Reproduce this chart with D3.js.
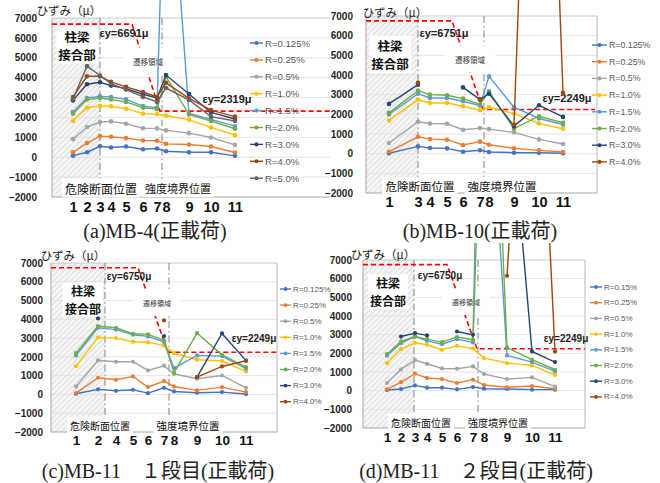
<!DOCTYPE html>
<html>
<head>
<meta charset="utf-8">
<script src="https://cdn.jsdelivr.net/npm/d3@7"></script>
<style>
  body { margin: 0; background: #fff; }
  svg { display: block; }
</style>
</head>
<body>
<svg id="chart" width="660" height="483"></svg>
<script>
// ひずみ分布 4パネル (MB-4, MB-10, MB-11 1段目, MB-11 2段目)

const yTicks = [-2000, -1000, 0, 1000, 2000, 3000, 4000, 5000, 6000, 7000];
const seriesColors = ["#4472C4", "#ED7D31", "#A5A5A5", "#FFC000", "#5B9BD5",
                      "#70AD47", "#264478", "#9E480E", "#636363"];

// ---- (a) MB-4 ----
const gaugeA = ["1", "2", "3", "4", "5", "6", "7", "8", "9", "10", "11"];
const posA = [21, 35, 48, 59, 74, 91, 105, 114, 137, 159, 183];
const namesA = ["R=0.125%", "R=0.25%", "R=0.5%", "R=1.0%", "R=1.5%", "R=2.0%", "R=3.0%", "R=4.0%", "R=5.0%"];
const strainA = [
  [80, 250, 550, 490, 540, 400, 440, 300, 250, 250, 70],
  [250, 710, 1060, 1030, 960, 840, 830, 670, 640, 540, 240],
  [910, 1520, 1770, 1800, 1680, 1460, 1450, 1350, 1210, 990, 620],
  [1830, 2490, 2580, 2560, 2440, 2190, 2160, 2100, 1880, 1500, 1110],
  [2270, 2980, 3060, 3030, 2910, 2570, 2490, 18000, 2200, 1900, 1560],
  [2190, 2900, 2980, 2900, 2780, 2490, 2420, 4050, 2150, 1820, 1430],
  [2860, 3670, 3770, 3600, 3450, 3165, 2980, 4130, 3180, 2250, 1920],
  [3030, 4070, 4070, 3790, 3535, 3280, 3030, 3740, 2960, 2370, 2040],
  [2930, 4580, 4110, 3700, 3400, 3030, 2780, 3480, 2880, 2040, 1820]
];
const yieldXA = [0, 80, 108, 278];
const yieldYA = [6691, 6691, 2319, 2319];

// ---- (b) MB-10 ----
const gaugeB = ["1", "3", "4", "5", "6", "7", "8", "9", "10", "11"];
const posB = [23, 52, 64, 81, 97, 114, 123, 148, 173, 197];
const namesB = ["R=0.125%", "R=0.25%", "R=0.5%", "R=1.0%", "R=1.5%", "R=2.0%", "R=3.0%", "R=4.0%"];
const strainB = [
  [20, 370, 290, 270, 100, 170, 85, 50, 50, 20],
  [100, 860, 740, 710, 440, 610, 455, 270, 170, 85],
  [540, 1620, 1535, 1520, 1215, 1300, 1250, 1080, 725, 490],
  [1690, 2750, 2580, 2580, 2410, 2210, 2360, 2040, 1535, 1265],
  [1990, 3050, 2830, 2830, 2665, 2445, 3930, 2360, 1790, 1485],
  [2075, 3200, 3000, 2970, 2800, 2500, 3170, 1270, 1905, 1570],
  [2530, 3510, null, null, 3370, 2750, 3050, 1400, 2460, 1870],
  [null, 3600, null, null, null, 2780, null, 1480, 36000, 3100]
];
const yieldXB = [0, 86, 117, 229];
const yieldYB = [6751, 6751, 2249, 2249];

// ---- (c) MB-11 1段目 ----
const gaugeC = ["1", "2", "4", "5", "6", "7", "8", "9", "10", "11"];
const posC = [25, 47, 65, 82, 97, 113, 123, 146, 171, 195];
const namesC = ["R=0.125%", "R=0.25%", "R=0.5%", "R=1.0%", "R=1.5%", "R=2.0%", "R=3.0%", "R=4.0%"];
const strainC = [
  [35, 270, 195, 250, 70, 355, 160, 90, 125, 20],
  [70, 890, 780, 960, 390, 710, 425, 215, 390, 125],
  [425, 1810, 1740, 1740, 1280, 1530, 1100, 835, 1010, 355],
  [1510, 3040, 3000, 2810, 2770, 2610, 2200, 1850, 1780, 1225],
  [2080, 3550, 3450, 3180, 3090, 2790, 1400, 2080, 2040, 1370],
  [2200, 3640, 3550, 3230, 3200, 2880, 1150, 3270, 2110, 1460],
  [null, 4050, null, null, null, 3110, null, 920, 3250, 1800],
  [null, null, null, null, null, 3940, null, 920, 1490, 1795]
];
const yieldXC = [0, 87, 117, 226];
const yieldYC = [6750, 6750, 2249, 2249];

// ---- (d) MB-11 2段目 ----
const gaugeD = ["1", "2", "3", "4", "5", "6", "7", "8", "9", "10", "11"];
const posD = [24, 38, 52, 64, 79, 94, 110, 121, 144, 169, 192];
const namesD = ["R=0.15%", "R=0.25%", "R=0.5%", "R=1.0%", "R=1.5%", "R=2.0%", "R=3.0%", "R=4.0%"];
const strainD = [
  [35, 90, 285, 160, 160, 70, 195, 105, 90, 55, 55],
  [70, 460, 910, 680, 620, 410, 590, 300, 180, 250, 105],
  [410, 1140, 1640, 1440, 1190, 1175, 1300, 890, 620, 710, 215],
  [1480, 2230, 2565, 2460, 2190, 2400, 2260, 1745, 1480, 1350, 840],
  [1870, 2550, 2900, 2670, 2490, 2760, 2580, 21500, 1890, 1530, 1030],
  [1960, 2640, 2900, 2760, 2600, 2870, 2725, 31400, 2315, 1660, 1120],
  [null, 2900, 3080, 2960, null, 3170, 2990, null, 17500, 2100, 1530],
  [null, null, null, null, null, null, null, null, 6150, 27500, 2100]
];
const yieldXD = [0, 84, 114, 222];
const yieldYD = [6750, 6750, 2249, 2249];

// パネル設定 (位置・サイズ)
const panels = [
  { id: "a", gauges: gaugeA, pos: posA, names: namesA, values: strainA, yx: yieldXA, yy: yieldYA,
    left: 52, xMax: 278, yTop: 18, yBot: 197, clipTop: 0, crit: 48, bound: 110,
    yLabRight: 37, xLabY: 212, xLabSize: 14.5, r: 2.3,
    title: { x: 69, y: 10 }, caption: { text: "(a)MB-4(正載荷)", x: 155, y: 231 },
    joint: { x: 77, y1: 37, y2: 55.5, size: 12.5 },
    eyHi: { text: "εy=6691μ", x: 124, y: 33, size: 11 }, eyLo: { text: "εy=2319μ", x: 227, y: 99, size: 11 },
    trans: { x: 148, y: 61, size: 7.5 },
    kiken: { x: 101, y: 188, size: 12 }, kyodo: { x: 178, y: 188, size: 11 },
    legend: { x: 250, y: 43, dy: 16.9, size: 9.6, len: 13 } },
  { id: "b", gauges: gaugeB, pos: posB, names: namesB, values: strainB, yx: yieldXB, yy: yieldYB,
    left: 366, xMax: 231, yTop: 16, yBot: 193, clipTop: 0, crit: 52, bound: 118,
    yLabRight: 353, xLabY: 207, xLabSize: 14.5, r: 2.3, frame: true,
    title: { x: 395, y: 12 }, caption: { text: "(b)MB-10(正載荷)", x: 480, y: 231 },
    joint: { x: 390, y1: 46, y2: 64.5, size: 12.5 },
    eyHi: { text: "εy=6751μ", x: 444, y: 33, size: 11 }, eyLo: { text: "εy=2249μ", x: 567, y: 98, size: 11 },
    trans: { x: 470, y: 59, size: 7.5 },
    kiken: { x: 420, y: 186, size: 11.5 }, kyodo: { x: 502, y: 186, size: 11.5 },
    legend: { x: 592, y: 45, dy: 16.7, size: 8.8, len: 15 } },
  { id: "c", gauges: gaugeC, pos: posC, names: namesC, values: strainC, yx: yieldXC, yy: yieldYC,
    left: 51, xMax: 226, yTop: 263, yBot: 432, clipTop: 243, crit: 54, bound: 118,
    yLabRight: 43, xLabY: 445, xLabSize: 13.5, r: 2.1, frame: true,
    title: { x: 73, y: 255 }, caption: { text: "(c)MB-11　１段目(正載荷)", x: 158, y: 471 },
    joint: { x: 83, y1: 292, y2: 309.5, size: 12 },
    eyHi: { text: "εy=6750μ", x: 129, y: 276, size: 10 }, eyLo: { text: "εy=2249μ", x: 254, y: 338, size: 10 },
    trans: { x: 157, y: 303, size: 7 },
    kiken: { x: 100, y: 425, size: 10 }, kyodo: { x: 188, y: 425, size: 10.5 },
    legend: { x: 280, y: 289, dy: 16.1, size: 8, len: 11 } },
  { id: "d", gauges: gaugeD, pos: posD, names: namesD, values: strainD, yx: yieldXD, yy: yieldYD,
    left: 363, xMax: 222, yTop: 260, yBot: 428, clipTop: 243, crit: 51, bound: 115,
    yLabRight: 352, xLabY: 442, xLabSize: 13.5, r: 2.1, frame: true,
    title: { x: 383, y: 254 }, caption: { text: "(d)MB-11　２段目(正載荷)", x: 476, y: 471 },
    joint: { x: 388, y1: 284, y2: 301.5, size: 12 },
    eyHi: { text: "εy=6750μ", x: 440, y: 275, size: 10 }, eyLo: { text: "εy=2249μ", x: 566, y: 338, size: 10 },
    trans: { x: 466, y: 302, size: 7 },
    kiken: { x: 421, y: 422, size: 10 }, kyodo: { x: 498, y: 422, size: 10 },
    legend: { x: 590, y: 287, dy: 15.7, size: 8, len: 12 } }
];

const JP = "'Noto Sans CJK JP', sans-serif";
const SANS = "'Liberation Sans', Arial, sans-serif";
const SERIF = "'Liberation Serif', 'Noto Sans CJK JP', serif";

const svg = d3.select("#chart");
const defs = svg.append("defs");

// ハッチング (柱梁接合部)
const pat = defs.append("pattern")
  .attr("id", "hatch")
  .attr("width", 4).attr("height", 4)
  .attr("patternUnits", "userSpaceOnUse")
  .attr("patternTransform", "rotate(45)");
pat.append("rect").attr("width", 4).attr("height", 4).attr("fill", "#f6f6f6");
pat.append("line").attr("x1", 0).attr("y1", 0).attr("x2", 0).attr("y2", 4)
  .attr("stroke", "#c2c2c2").attr("stroke-width", 1);

// 白背景付きテキスト
function boxedText(g, x, y, txt, size, opts = {}) {
  const t = g.append("text")
    .attr("x", x).attr("y", y)
    .attr("text-anchor", "middle")
    .attr("dominant-baseline", "central")
    .attr("font-family", opts.family || JP)
    .attr("font-size", size)
    .attr("font-weight", opts.weight || "normal")
    .attr("fill", opts.fill || "#222")
    .text(txt);
  const b = t.node().getBBox();
  const px = opts.padX ?? 2, py = opts.padY ?? 1;
  g.insert("rect", () => t.node())
    .attr("x", b.x - px).attr("y", b.y - py)
    .attr("width", b.width + 2 * px).attr("height", b.height + 2 * py)
    .attr("fill", "#fff");
  return t;
}

function drawPanel(p) {
  const g = svg.append("g").attr("class", "panel-" + p.id);

  const x = d3.scaleLinear().domain([0, p.xMax]).range([p.left, p.left + p.xMax]);
  const y = d3.scaleLinear().domain([-2000, 7000]).range([p.yBot, p.yTop]);

  defs.append("clipPath").attr("id", "clip-" + p.id)
    .append("rect")
      .attr("x", p.left).attr("y", p.clipTop)
      .attr("width", p.xMax).attr("height", p.yBot - p.clipTop);

  // ハッチ領域
  g.append("rect")
    .attr("x", x(0)).attr("y", y(7000))
    .attr("width", x(p.crit) - x(0)).attr("height", y(-2000) - y(7000))
    .attr("fill", "url(#hatch)");

  // グリッド
  g.append("g").selectAll("line")
    .data(yTicks.filter(d => d > -2000))
    .join("line")
      .attr("x1", x(0)).attr("x2", x(p.xMax))
      .attr("y1", d => y(d)).attr("y2", d => y(d))
      .attr("stroke", d => d === 7000 ? "#bdbdbd" : "#dedede")
      .attr("stroke-width", 0.8);

  // 軸線・枠
  g.append("line")
    .attr("x1", x(0)).attr("x2", x(0)).attr("y1", y(7000)).attr("y2", y(-2000))
    .attr("stroke", "#a6a6a6");
  g.append("line")
    .attr("x1", x(0)).attr("x2", x(p.xMax)).attr("y1", y(-2000)).attr("y2", y(-2000))
    .attr("stroke", "#a6a6a6");
  if (p.frame) {
    g.append("line")
      .attr("x1", x(p.xMax)).attr("x2", x(p.xMax)).attr("y1", y(7000)).attr("y2", y(-2000))
      .attr("stroke", "#a6a6a6").attr("stroke-width", 0.8);
  }

  // 危険断面位置・強度境界位置 (一点鎖線)
  g.append("g").selectAll("line")
    .data([p.crit, p.bound])
    .join("line")
      .attr("x1", d => x(d)).attr("x2", d => x(d))
      .attr("y1", y(7000)).attr("y2", y(-2000))
      .attr("stroke", "#8c8c8c").attr("stroke-width", 1.1)
      .attr("stroke-dasharray", "7,3,1.5,3");

  // 降伏ひずみライン
  const yieldPts = p.yx.map((d, i) => [d, p.yy[i]]);
  g.append("path")
    .datum(yieldPts)
    .attr("fill", "none")
    .attr("stroke", "#ff0000")
    .attr("stroke-width", 1.6)
    .attr("stroke-dasharray", "5,3")
    .attr("d", d3.line().x(d => x(d[0])).y(d => y(d[1])));

  // 注記
  boxedText(g, p.trans.x, p.trans.y, "遷移領域", p.trans.size, { padX: 10, padY: 8, fill: "#333" });

  // 柱梁 / 接合部
  const jg = g.append("g");
  const jt = jg.append("text")
    .attr("text-anchor", "middle")
    .attr("font-family", JP).attr("font-weight", "bold")
    .attr("font-size", p.joint.size).attr("fill", "#111");
  jt.append("tspan").attr("x", p.joint.x).attr("y", p.joint.y1).attr("dy", "0.36em").text("柱梁");
  jt.append("tspan").attr("x", p.joint.x).attr("y", p.joint.y2).attr("dy", "0.36em").text("接合部");
  const jb = jt.node().getBBox();
  jg.insert("rect", () => jt.node())
    .attr("x", jb.x - 2).attr("y", jb.y)
    .attr("width", jb.width + 4).attr("height", jb.height)
    .attr("fill", "#fff");

  boxedText(g, p.kiken.x, p.kiken.y, "危険断面位置", p.kiken.size, { padX: 3, padY: 1, fill: "#111" });
  boxedText(g, p.kyodo.x, p.kyodo.y, "強度境界位置", p.kyodo.size, { padX: 3, padY: 1, fill: "#111" });

  [p.eyHi, p.eyLo].forEach(e => {
    g.append("text")
      .attr("x", e.x).attr("y", e.y)
      .attr("text-anchor", "middle").attr("dominant-baseline", "central")
      .attr("font-family", SANS).attr("font-weight", "bold")
      .attr("font-size", e.size).attr("fill", "#222")
      .text(e.text);
  });

  // 系列
  const sg = g.append("g").attr("clip-path", `url(#clip-${p.id})`);
  const line = d3.line()
    .defined(d => d.v !== null)
    .x(d => x(d.x))
    .y(d => y(d.v));

  p.values.forEach((vals, si) => {
    const pts = vals.map((v, i) => ({ x: p.pos[i], v }));
    const col = seriesColors[si];
    sg.append("path")
      .datum(pts)
      .attr("fill", "none")
      .attr("stroke", col)
      .attr("stroke-width", 1.4)
      .attr("d", line);
    sg.append("g").selectAll("circle")
      .data(pts.filter(d => d.v !== null))
      .join("circle")
        .attr("cx", d => x(d.x))
        .attr("cy", d => y(d.v))
        .attr("r", p.r)
        .attr("fill", col);
  });

  // 凡例
  const lg = g.append("g").selectAll("g")
    .data(p.names)
    .join("g")
      .attr("transform", (d, i) => `translate(${p.legend.x},${p.legend.y + i * p.legend.dy})`);
  lg.append("line")
    .attr("x1", 0).attr("x2", p.legend.len)
    .attr("stroke", (d, i) => seriesColors[i]).attr("stroke-width", 1.4);
  lg.append("circle")
    .attr("cx", p.legend.len / 2).attr("r", p.r * 0.9)
    .attr("fill", (d, i) => seriesColors[i]);
  lg.append("text")
    .attr("x", p.legend.len + 2)
    .attr("dominant-baseline", "central")
    .attr("font-family", SANS).attr("font-size", p.legend.size)
    .attr("fill", "#595959")
    .text(d => d);

  // Y軸目盛
  const yAxis = g.append("g")
    .attr("transform", `translate(${p.yLabRight},0)`)
    .call(d3.axisLeft(y).tickValues(yTicks).tickFormat(d3.format("d")).tickSize(0).tickPadding(0));
  yAxis.select(".domain").remove();
  yAxis.selectAll("text")
    .attr("font-family", SANS).attr("font-weight", "bold")
    .attr("font-size", 10).attr("fill", "#262626");

  // X軸 (ゲージ番号)
  const xAxis = g.append("g")
    .attr("transform", `translate(0,${p.xLabY})`)
    .call(d3.axisBottom(x).tickValues(p.pos).tickFormat((d, i) => p.gauges[i]).tickSize(0).tickPadding(0));
  xAxis.select(".domain").remove();
  xAxis.selectAll("text")
    .attr("dy", null)
    .attr("dominant-baseline", "auto")
    .attr("font-family", SANS).attr("font-weight", "bold")
    .attr("font-size", p.xLabSize).attr("fill", "#111");

  // 縦軸タイトル
  g.append("text")
    .attr("x", p.title.x).attr("y", p.title.y)
    .attr("text-anchor", "middle").attr("dominant-baseline", "central")
    .attr("font-family", JP).attr("font-size", 11.5).attr("fill", "#222")
    .text("ひずみ（μ）");

  // キャプション
  g.append("text")
    .attr("x", p.caption.x).attr("y", p.caption.y)
    .attr("text-anchor", "middle").attr("dominant-baseline", "central")
    .attr("font-family", SERIF).attr("font-size", 20).attr("fill", "#222")
    .text(p.caption.text);
}

panels.forEach(drawPanel);
</script>
</body>
</html>
